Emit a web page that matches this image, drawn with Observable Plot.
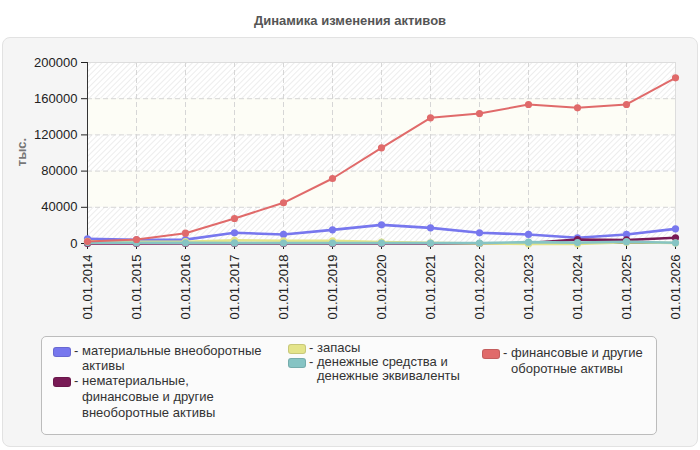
<!DOCTYPE html>
<html>
<head>
<meta charset="utf-8">
<script src="https://cdn.jsdelivr.net/npm/d3@7"></script>
<script src="https://cdn.jsdelivr.net/npm/@observablehq/plot@0.6"></script>
<style>
  body { margin: 0; background: #fff; font-family: "Liberation Sans", Arial, sans-serif; }
  #wrap { position: relative; width: 700px; height: 450px; overflow: hidden; }
  #title { position: absolute; top: 13px; left: 0; width: 700px; text-align: center; font-weight: bold; font-size: 13px; color: #555; }
  #panel { position: absolute; left: 2px; top: 37px; width: 694px; height: 408px; background: #f5f5f5; border: 1px solid #e2e2e2; border-radius: 8px; }
  #chart { position: absolute; left: 0; top: 0; }
  #ylab { position: absolute; left: 21px; top: 152px; transform: translate(-50%, -50%) rotate(-90deg); font-weight: bold; font-size: 13px; color: #777; white-space: nowrap; }
  #legend { position: absolute; left: 41px; top: 336px; width: 614px; height: 97px; background: #fbfbfb; border: 1px solid #bcbcbc; border-radius: 5px; }
  .item { position: absolute; font-size: 13px; color: #333; }
  .sw { position: absolute; left: 0; width: 16px; height: 8px; border-radius: 3px; border: 1px solid rgba(0,0,0,0.12); }
  .dash { position: absolute; left: 21px; }
  .txt { position: absolute; left: 29px; white-space: nowrap; }
</style>
</head>
<body>
<div id="wrap">
  <div id="panel"></div>
  <div id="title">Динамика изменения активов</div>
  <div id="chart"></div>
  <div id="ylab">тыс.</div>
  <div id="legend"></div>
</div>
<script>
const dates = ["01.01.2014","01.01.2015","01.01.2016","01.01.2017","01.01.2018","01.01.2019","01.01.2020","01.01.2021","01.01.2022","01.01.2023","01.01.2024","01.01.2025","01.01.2026"];
const yTicks = [0, 40000, 80000, 120000, 160000, 200000];

const tangible   = [5200, 4000, 4300, 11800, 10000, 15100, 20600, 17300, 11800, 10000, 6300, 10000, 16200];
const intangible = [0, 0, 0, 0, 0, 0, 0, 0, 0, 500, 4400, 3900, 6300];
const inventory  = [2500, 1800, 2000, 3500, 3000, 3000, 1500, 800, 0, -500, -500, 1500, 500];
const cash       = [1000, 800, 700, 600, 500, 500, 500, 500, 500, 1500, 1000, 2000, 800];
const finance    = [2200, 4400, 11400, 27600, 45000, 71800, 105700, 138900, 143600, 153600, 149900, 153600, 183100];

const seriesNames = [
  "материальные внеоборотные активы",
  "нематериальные, финансовые и другие внеоборотные активы",
  "запасы",
  "денежные средства и денежные эквиваленты",
  "финансовые и другие оборотные активы"
];
const seriesColors = ["#7777ee", "#781a55", "#e4e48a", "#86c4c4", "#e06a6a"];
const seriesValues = [tangible, intangible, inventory, cash, finance];

const seriesData = seriesValues.map(vals => dates.map((d, i) => ({date: d, value: vals[i]})));

// background bands between y ticks
const bands = yTicks.slice(0, -1).map((t, i) => ({y1: t, y2: yTicks[i + 1], hatched: i % 2 === 0}));

const marks = [
  Plot.rect(bands, {x1: () => dates[0], x2: () => dates[dates.length - 1], y1: "y1", y2: "y2",
    fill: d => d.hatched ? "url(#hatch)" : "#fdfdf6"}),
  Plot.gridX({stroke: "#d6d6d6", strokeOpacity: 1, strokeDasharray: "5,3"}),
  Plot.gridY(yTicks, {stroke: "#d6d6d6", strokeOpacity: 1, strokeDasharray: "5,3"}),
  Plot.frame({stroke: "#dddddd"}),
  Plot.axisY(yTicks, {tickSize: 6, tickPadding: 4, fontSize: 13, tickFormat: d => String(d), label: null, color: "#222"}),
  Plot.axisX(dates, {tickSize: 6, tickPadding: 5, tickRotate: -90, fontSize: 13, label: null, color: "#222"}),
  Plot.ruleX([dates[0]], {stroke: "#333"}),
  Plot.ruleY([0], {stroke: "#333"})
];

seriesData.forEach((data, k) => {
  marks.push(Plot.line(data, {x: "date", y: "value", stroke: seriesColors[k], strokeWidth: k === 4 ? 2 : 2.6}));
  marks.push(Plot.dot(data, {x: "date", y: "value", fill: seriesColors[k], r: 3.6}));
});

const chart = Plot.plot({
  width: 700,
  height: 340,
  marginLeft: 87,
  marginRight: 25,
  marginTop: 62,
  marginBottom: 97,
  style: {background: "transparent", fontFamily: "'Liberation Sans', Arial, sans-serif", fontSize: "13px"},
  x: {type: "point", domain: dates, padding: 0},
  y: {domain: [0, 200000]},
  marks
});

// hatch pattern definition
const svg = d3.select(chart);
const defs = svg.insert("defs", ":first-child");
const pat = defs.append("pattern")
  .attr("id", "hatch")
  .attr("patternUnits", "userSpaceOnUse")
  .attr("width", 4).attr("height", 4)
  .attr("patternTransform", "rotate(-45)");
pat.append("rect").attr("width", 4).attr("height", 4).attr("fill", "#ffffff");
pat.append("line").attr("x1", 0).attr("y1", 0).attr("x2", 4).attr("y2", 0)
  .attr("stroke", "#ededed").attr("stroke-width", 2);

document.getElementById("chart").appendChild(chart);

// legend
const legendLayout = [
  {k: 0, left: 11, top: 6,  lines: ["материальные внеоборотные", "активы"], lh: 15},
  {k: 1, left: 11, top: 36, lines: ["нематериальные,", "финансовые и другие", "внеоборотные активы"], lh: 16},
  {k: 2, left: 246, top: 3, lines: ["запасы"], lh: 15},
  {k: 3, left: 246, top: 18, lines: ["денежные средства и", "денежные эквиваленты"], lh: 14},
  {k: 4, left: 440, top: 8, lines: ["финансовые и другие", "оборотные активы"], lh: 16}
];
const legend = document.getElementById("legend");
legendLayout.forEach(it => {
  const div = document.createElement("div");
  div.className = "item";
  div.style.left = it.left + "px";
  div.style.top = it.top + "px";
  div.style.lineHeight = it.lh + "px";
  const sw = document.createElement("div");
  sw.className = "sw";
  sw.style.background = seriesColors[it.k];
  sw.style.top = (it.lh / 2 - 4) + "px";
  const dash = document.createElement("span");
  dash.className = "dash";
  dash.textContent = "-";
  const txt = document.createElement("span");
  txt.className = "txt";
  txt.innerHTML = it.lines.join("<br>");
  div.title = seriesNames[it.k];
  div.appendChild(sw);
  div.appendChild(dash);
  div.appendChild(txt);
  legend.appendChild(div);
});
</script>
</body>
</html>
